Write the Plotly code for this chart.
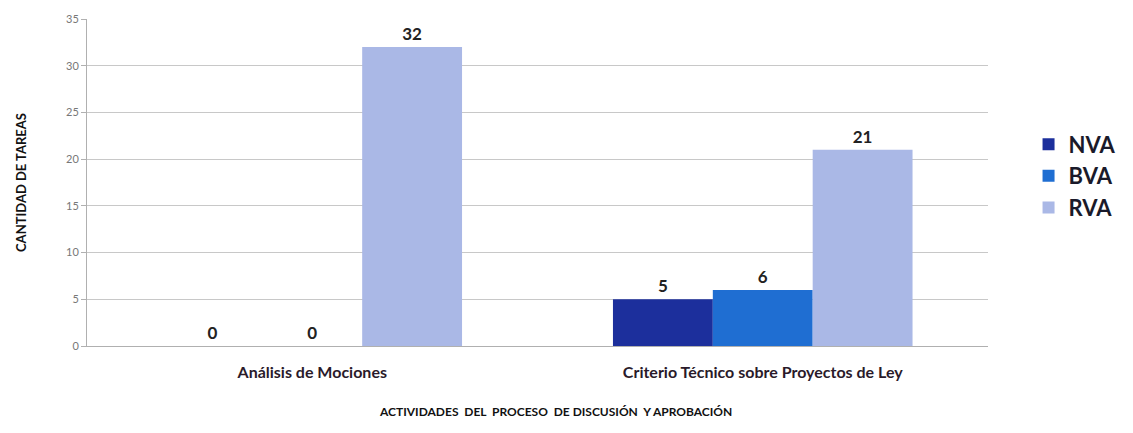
import plotly.graph_objects as go

# Activities of the discussion and approval process
categorias = ["Análisis de Mociones", "Criterio Técnico sobre Proyectos de Ley"]
series = ["NVA", "BVA", "RVA"]
nva = [0, 5]
bva = [0, 6]
rva = [32, 21]
valores = [nva, bva, rva]
colores = ["#1c2f9c", "#1f6ed2", "#aab8e6"]
ticks_y = [0, 5, 10, 15, 20, 25, 30, 35]

FONT = "Lato, 'Open Sans', sans-serif"

fig = go.Figure()
for nombre, vals, color in zip(series, valores, colores):
    fig.add_trace(go.Bar(
        name=nombre,
        legendgroup=nombre,
        x=categorias,
        y=vals,
        marker=dict(color=color, line=dict(width=0)),
        text=[str(v) for v in vals],
        textposition="outside",
        cliponaxis=False,
        textfont=dict(family=FONT, size=17, color="#222222", weight="bold"),
    ))

fig.add_annotation(
    text="ACTIVIDADES  DEL  PROCESO  DE DISCUSIÓN  Y APROBACIÓN",
    xref="paper", yref="paper", x=0.52, y=-0.2, xanchor="center", yanchor="middle",
    showarrow=False,
    font=dict(family=FONT, size=12, color="#111111", weight="bold"),
)

fig.update_layout(
    width=1133,
    height=433,
    barmode="group",
    bargap=0.335,
    bargroupgap=0,
    plot_bgcolor="white",
    paper_bgcolor="white",
    margin=dict(l=87, r=143, t=15, b=87),
    font=dict(family=FONT),
    legend=dict(
        x=1.045, y=0.52, xanchor="left", yanchor="middle",
        font=dict(family=FONT, size=22, color="#1a1a2a", weight="bold"),
        traceorder="grouped", tracegroupgap=0,
        itemwidth=30,
    ),
    xaxis=dict(
        showline=True, linecolor="#b0b0b0", linewidth=1,
        ticks="", ticklabelstandoff=12,
        tickfont=dict(family=FONT, size=16, color="#2a1a2a", weight="bold"),
    ),
    yaxis=dict(
        range=[0, 35], tickvals=ticks_y,
        showgrid=True, gridcolor="#c8c8c8", gridwidth=1,
        showline=True, linecolor="#b0b0b0", linewidth=1,
        ticks="outside", ticklen=5, tickcolor="#b0b0b0",
        tickfont=dict(family=FONT, size=11, color="#777777"),
        zeroline=False,
        title=dict(text="CANTIDAD DE TAREAS",
                   font=dict(family=FONT, size=13, color="#111111", weight="bold"),
                   standoff=36),
    ),
)

fig.write_html("out.html")
